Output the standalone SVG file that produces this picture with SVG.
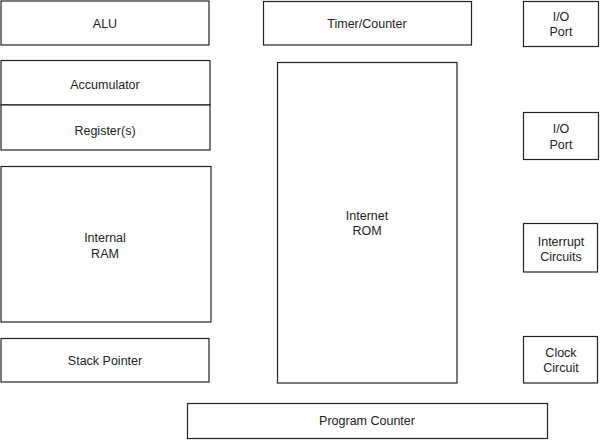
<svg xmlns="http://www.w3.org/2000/svg" width="600" height="440" viewBox="0 0 600 440">
<style>
.b{fill:#fff;stroke:#222;stroke-width:1.2}
.t{font-family:"Liberation Sans",Arial,sans-serif;font-size:12.5px;fill:#222;text-anchor:middle}
</style>
<rect width="600" height="440" fill="#fff"/>
<g id="connectors"></g>
<g id="alu"><rect class="b" x="1" y="1" width="208" height="44"/><text class="t" x="105" y="27.5">ALU</text></g>
<g id="accumulator"><rect class="b" x="1" y="60.5" width="209" height="44.5"/><text class="t" x="105" y="89">Accumulator</text></g>
<g id="registers"><rect class="b" x="1" y="105" width="209" height="45"/><text class="t" x="105" y="134.5">Register(s)</text></g>
<g id="ram"><rect class="b" x="1" y="166.5" width="210" height="155.5"/><text class="t" x="105" y="241.5">Internal</text><text class="t" x="105" y="257.5">RAM</text></g>
<g id="sp"><rect class="b" x="1" y="338.5" width="208" height="43.5"/><text class="t" x="105" y="364.5">Stack Pointer</text></g>
<g id="timer"><rect class="b" x="263.5" y="1.5" width="208" height="43.5"/><text class="t" x="367" y="27.5">Timer/Counter</text></g>
<g id="rom"><rect class="b" x="277.5" y="62.5" width="179.5" height="320.5"/><text class="t" x="367" y="219.5">Internet</text><text class="t" x="367" y="234.5">ROM</text></g>
<g id="io1"><rect class="b" x="523.5" y="1.5" width="75" height="45"/><text class="t" x="561" y="20.5">I/O</text><text class="t" x="561" y="35.5">Port</text></g>
<g id="io2"><rect class="b" x="523.5" y="112.5" width="75" height="47"/><text class="t" x="561" y="132.5">I/O</text><text class="t" x="561" y="148.5">Port</text></g>
<g id="interrupt"><rect class="b" x="523.5" y="223.5" width="74" height="48.5"/><text class="t" x="561" y="245.5">Interrupt</text><text class="t" x="561" y="260.5">Circuits</text></g>
<g id="clock"><rect class="b" x="523.5" y="336.5" width="74" height="46.5"/><text class="t" x="561" y="356.5">Clock</text><text class="t" x="561" y="371.5">Circuit</text></g>
<g id="pc"><rect class="b" x="187.5" y="403.5" width="360" height="35"/><text class="t" x="367" y="425">Program Counter</text></g>
</svg>
